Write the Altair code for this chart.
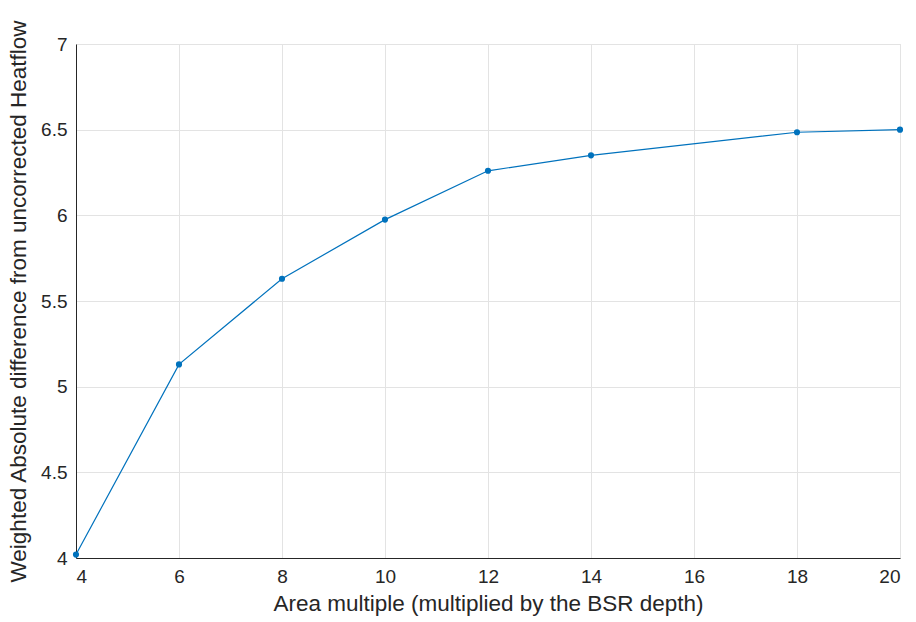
import altair as alt
import pandas as pd

area_multiple = [4, 6, 8, 10, 12, 14, 18, 20]
weighted_diff = [4.02, 5.13, 5.63, 5.975, 6.26, 6.35, 6.485, 6.50]

df = pd.DataFrame({"x": area_multiple, "y": weighted_diff})

x_ticks = [4, 6, 8, 10, 12, 14, 16, 18, 20]
y_ticks = [4, 4.5, 5, 5.5, 6, 6.5, 7]

FONT = "Liberation Sans"
BLUE = "#0072BD"
DARK = "#262626"

x_enc = alt.X("x:Q", scale=alt.Scale(domain=[4, 20], nice=False, zero=False),
              axis=alt.Axis(values=x_ticks, title="Area multiple (multiplied by the BSR depth)",
                            titleFontSize=22.5, titleFontWeight="normal", titlePadding=6,
                            labelFontSize=19, labelPadding=9, ticks=False,
                            domainColor=DARK, labelColor=DARK, titleColor=DARK,
                            gridColor="#e3e3e3", labelFont=FONT, titleFont=FONT,
                            labelExpr="datum.value"))
y_enc = alt.Y("y:Q", scale=alt.Scale(domain=[4, 7], nice=False, zero=False),
              axis=alt.Axis(values=y_ticks, title="Weighted Absolute difference from uncorrected Heatflow",
                            titleFontSize=22.5, titleFontWeight="normal", titlePadding=10,
                            labelFontSize=19, labelPadding=9, ticks=False,
                            domainColor=DARK, labelColor=DARK, titleColor=DARK,
                            gridColor="#e3e3e3", labelFont=FONT, titleFont=FONT,
                            labelExpr="datum.value"))

base = alt.Chart(df)
line = base.mark_line(color=BLUE, strokeWidth=1.2).encode(x=x_enc, y=y_enc)
pts = base.mark_point(color=BLUE, filled=True, size=38, opacity=1).encode(x="x:Q", y="y:Q")

chart = (line + pts).properties(
    width=824, height=514,
    autosize=alt.AutoSizeParams(type="none"),
    padding={"left": 76, "top": 44, "right": 16, "bottom": 64},
).configure_view(stroke=DARK, strokeWidth=1).configure(background="white")

chart.save("out.html", embed_options={"renderer": "svg", "actions": False})
